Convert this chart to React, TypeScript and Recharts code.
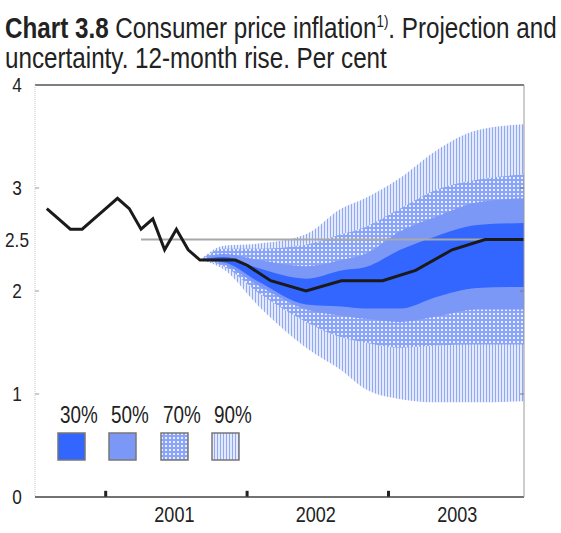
import React from "react";
import { ComposedChart, Area, Line, XAxis, YAxis, ReferenceLine } from "recharts";

// x values are months counted from January 2001 (0 = Jan 2001)
const yTicks = [0, 1, 2, 2.5, 3, 4];
const yMarks = [1, 2, 3];
const yearTicks = [6, 18, 30];
const yearLabels = ["2001", "2002", "2003"];
const yearBoundaries = [0, 12, 24];

const histMonths = [-5, -4, -3, -2, -1, 0, 1, 2, 3, 4, 5, 6, 7, 8];
const histValues = [2.8, 2.7, 2.6, 2.6, 2.7, 2.8, 2.9, 2.8, 2.6, 2.7, 2.4, 2.6, 2.4, 2.3];

const projMonths = [11, 12, 14, 17, 20, 23.5, 26.3, 29.4, 32.2, 35.5];
const projValues = [2.3, 2.25, 2.1, 2.0, 2.1, 2.1, 2.2, 2.4, 2.5, 2.5];

const targetMonths = [3, 35.5];
const targetValue = 2.5;

const fanMonths = [8, 10, 13, 17, 20, 22, 25, 28, 31.5, 35.5];
const upper90 = [2.3, 2.44, 2.46, 2.55, 2.8, 2.9, 3.1, 3.36, 3.56, 3.62];
const upper70 = [2.3, 2.41, 2.41, 2.45, 2.55, 2.62, 2.8, 2.98, 3.08, 3.13];
const upper50 = [2.3, 2.36, 2.3, 2.24, 2.3, 2.36, 2.58, 2.72, 2.86, 2.9];
const upper30 = [2.3, 2.33, 2.22, 2.12, 2.2, 2.23, 2.4, 2.53, 2.64, 2.66];
const lower30 = [2.3, 2.28, 2.09, 1.87, 1.85, 1.83, 1.83, 1.94, 2.03, 2.04];
const lower50 = [2.3, 2.26, 2.05, 1.82, 1.76, 1.73, 1.7, 1.75, 1.82, 1.82];
const lower70 = [2.3, 2.24, 1.98, 1.7, 1.55, 1.5, 1.45, 1.47, 1.48, 1.48];
const lower90 = [2.3, 2.21, 1.85, 1.45, 1.23, 1.05, 0.95, 0.92, 0.92, 0.93];

const bandLabels = ["30%", "50%", "70%", "90%"];
const bandFills = ["#3366ff", "#7c98f7", "url(#pat70)", "url(#pat90)"];

const lineData = [
  ...histMonths.map((m, i) => ({ m, v: histValues[i] })),
  ...projMonths.map((m, i) => ({ m, v: projValues[i] })),
];
const targetData = targetMonths.map((m) => ({ m, v: targetValue }));
const fanData = fanMonths.map((m, i) => ({
  m,
  b90: [lower90[i], upper90[i]],
  b70: [lower70[i], upper70[i]],
  b50: [lower50[i], upper50[i]],
  b30: [lower30[i], upper30[i]],
}));

const font = '"Liberation Sans", Arial, sans-serif';
const squeeze = 0.82;

const NarrowText = ({ x, y, size, children }: any) => (
  <text
    transform={`translate(${x},${y}) scale(${squeeze},1)`}
    textAnchor="middle"
    dominantBaseline="central"
    fontFamily={font}
    fontSize={size}
    fill="#222"
  >
    {children}
  </text>
);

const LeftTick = (props: any) => <NarrowText x={17} y={props.y} size={21}>{props.payload.value}</NarrowText>;
const RightTick = (props: any) => <NarrowText x={543} y={props.y} size={21}>{props.payload.value}</NarrowText>;
const YearTick = (props: any) => (
  <NarrowText x={props.x - 2} y={514} size={22}>
    {yearLabels[yearTicks.indexOf(props.payload.value)]}
  </NarrowText>
);

export default function App() {
  return (
    <div style={{ position: "absolute", left: 0, top: 0, width: 561, height: 533, background: "#fff", fontFamily: font }}>
      <div
        style={{
          position: "absolute",
          left: 5,
          top: 7,
          fontSize: 29,
          lineHeight: "30px",
          color: "#222",
          whiteSpace: "nowrap",
          transform: "scale(0.835,1)",
          transformOrigin: "0 0",
        }}
      >
        <div>
          <b>Chart 3.8</b> Consumer price inflation<sup style={{ fontSize: 16 }}>1)</sup>. Projection and
        </div>
        <div>uncertainty. 12-month rise. Per cent</div>
      </div>
      <ComposedChart width={561} height={533} margin={{ top: 85, right: 0, bottom: 0, left: 0 }}>
        <defs>
          <pattern id="pat90" width="3" height="3" patternUnits="userSpaceOnUse">
            <rect width="3" height="3" fill="#e4eafc" />
            <rect x="0" width="1" height="3" fill="#90a9f5" />
          </pattern>
          <pattern id="pat70" width="4" height="4" patternUnits="userSpaceOnUse">
            <rect width="4" height="4" fill="#8aa4f7" />
            <rect x="1" y="1" width="2" height="2" fill="#e8eefd" />
          </pattern>
        </defs>
        <XAxis
          dataKey="m"
          type="number"
          domain={[-6, 35.5]}
          allowDataOverflow
          ticks={yearTicks}
          tick={<YearTick />}
          tickLine={false}
          axisLine={{ stroke: "#444", strokeWidth: 1.5 }}
          height={36}
        />
        <YAxis
          yAxisId="l"
          orientation="left"
          domain={[0, 4]}
          ticks={yTicks}
          tick={<LeftTick />}
          tickLine={false}
          axisLine={{ stroke: "#c8c8c8", strokeDasharray: "1 1" }}
          width={35}
        />
        <YAxis
          yAxisId="r"
          orientation="right"
          domain={[0, 4]}
          ticks={yTicks}
          tick={<RightTick />}
          tickLine={false}
          axisLine={{ stroke: "#999" }}
          width={37}
        />
        <ReferenceLine yAxisId="l" y={4} stroke="#555" strokeWidth={1.5} />
        <Area yAxisId="l" data={fanData} dataKey="b90" type="monotone" fill="url(#pat90)" fillOpacity={1} stroke="none" isAnimationActive={false} />
        <Area yAxisId="l" data={fanData} dataKey="b70" type="monotone" fill="url(#pat70)" fillOpacity={1} stroke="none" isAnimationActive={false} />
        <Area yAxisId="l" data={fanData} dataKey="b50" type="monotone" fill="#7c98f7" fillOpacity={1} stroke="none" isAnimationActive={false} />
        <Line yAxisId="l" data={targetData} dataKey="v" stroke="#a8a8a8" strokeWidth={2} dot={false} isAnimationActive={false} />
        <Area yAxisId="l" data={fanData} dataKey="b30" type="monotone" fill="#3366ff" fillOpacity={1} stroke="none" isAnimationActive={false} />
        <Line yAxisId="l" data={lineData} dataKey="v" type="linear" stroke="#1a1a1a" strokeWidth={3} dot={false} isAnimationActive={false} />
        {yearBoundaries.map((m) => (
          <ReferenceLine key={"x" + m} yAxisId="l" segment={[{ x: m, y: 0 }, { x: m, y: 0.06 }]} stroke="#222" strokeWidth={3} />
        ))}
        {yMarks.map((v) => (
          <ReferenceLine key={"l" + v} yAxisId="l" segment={[{ x: -6, y: v }, { x: -5.65, y: v }]} stroke="#999" strokeWidth={1} />
        ))}
        {yMarks.map((v) => (
          <ReferenceLine key={"r" + v} yAxisId="l" segment={[{ x: 35.15, y: v }, { x: 35.5, y: v }]} stroke="#777" strokeWidth={1} />
        ))}
      </ComposedChart>
      {bandLabels.map((label, i) => (
        <div key={label} style={{ position: "absolute", left: 57 + i * 51.3, top: 403 }}>
          <div
            style={{
              fontSize: 23,
              lineHeight: "24px",
              color: "#222",
              marginLeft: 3,
              transform: `scale(${squeeze},1)`,
              transformOrigin: "0 0",
            }}
          >
            {label}
          </div>
          <svg width={30} height={30} style={{ position: "absolute", left: 0, top: 29 }}>
            <rect x={1} y={1} width={27} height={27} fill={bandFills[i]} stroke="#777" strokeWidth={1.5} />
          </svg>
        </div>
      ))}
    </div>
  );
}
